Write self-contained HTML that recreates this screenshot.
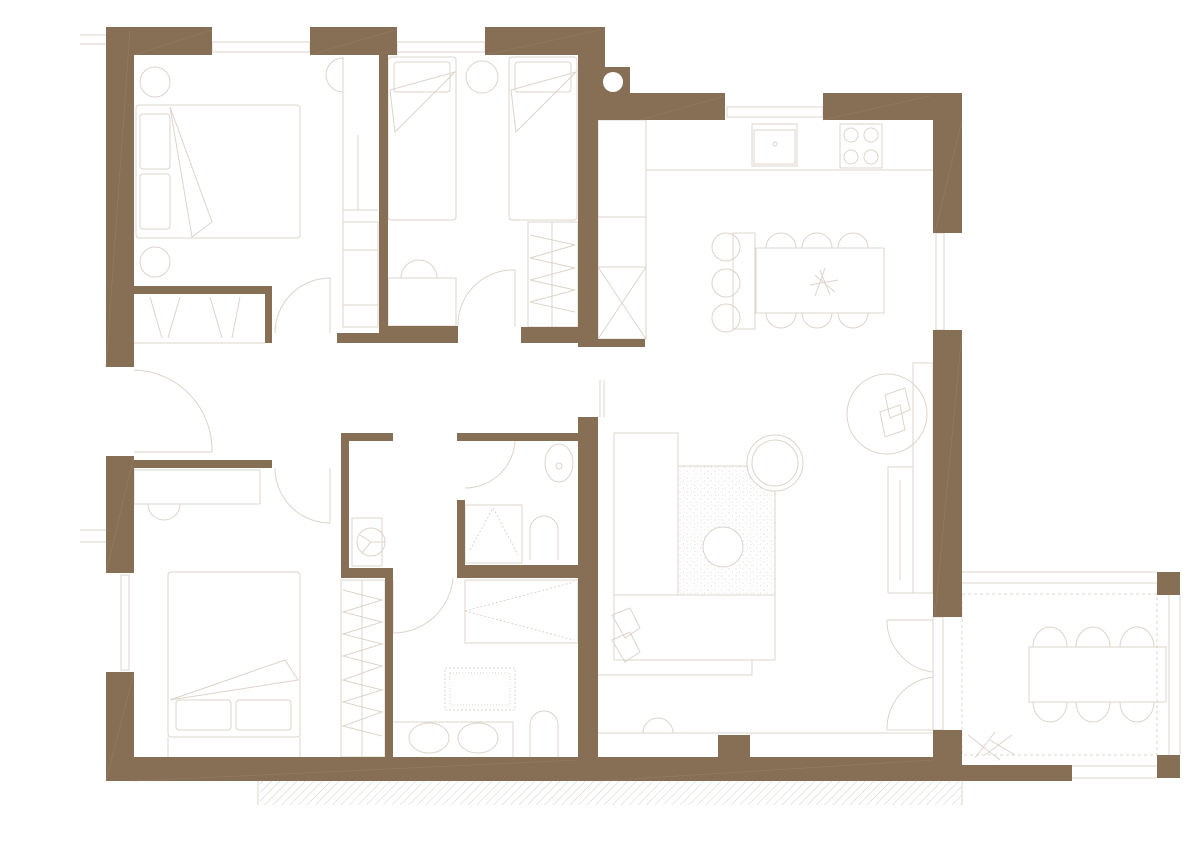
<!DOCTYPE html>
<html><head><meta charset="utf-8"><style>html,body{margin:0;padding:0;background:#fff}svg{display:block}</style></head>
<body>
<svg width="1200" height="850" viewBox="0 0 1200 850" xmlns="http://www.w3.org/2000/svg">
<defs>
<pattern id="hatch" width="6" height="6" patternUnits="userSpaceOnUse" patternTransform="rotate(45)">
<line x1="0" y1="0" x2="0" y2="6" stroke="#d6cfc8" stroke-width="1"/>
</pattern>
<pattern id="dots" width="7" height="7" patternUnits="userSpaceOnUse">
<circle cx="1" cy="2" r="0.5" fill="#cfc4b8"/><circle cx="4.5" cy="5" r="0.5" fill="#d8cec4"/><circle cx="5" cy="1" r="0.4" fill="#d8cec4"/><circle cx="2" cy="5.5" r="0.4" fill="#cfc4b8"/>
</pattern>
</defs>
<rect x="260" y="781" width="702" height="24" fill="url(#hatch)"/>
<g fill="none" stroke="#ddd4cb" stroke-width="1">
<rect x="212" y="42" width="98" height="10"/><rect x="397" y="42" width="88" height="10"/>
<rect x="727" y="107" width="96" height="10"/>
<rect x="936" y="233" width="8" height="97"/><rect x="121" y="575" width="8" height="95"/>
<line x1="80" y1="35" x2="106" y2="35"/><line x1="80" y1="44" x2="106" y2="44"/>
<line x1="80" y1="530" x2="106" y2="530"/><line x1="80" y1="542" x2="106" y2="542"/>
<circle cx="155" cy="82" r="15"/><circle cx="155" cy="262" r="15"/>
<rect x="136" y="105" width="164" height="133" rx="3"/>
<rect x="140" y="114" width="30" height="55" rx="3"/><rect x="140" y="174" width="30" height="55" rx="3"/>
<path d="M170 107 L212 222 L192 237 Z"/>
<path d="M343 57 V325 M343 210 H378 M358 135 V210"/><path d="M343 58 A15 15 0 0 0 343 92"/>
<rect x="343" y="222" width="35" height="105"/>
<line x1="343" y1="250" x2="378" y2="250"/><line x1="343" y1="305" x2="378" y2="305"/>
<path d="M134 343 H265 M150 297 L162 338 M180 297 L168 338 M210 297 L222 338 M240 297 L232 338"/>
<path d="M275 333 A55 55 0 0 1 330 278 V333"/>
<rect x="388" y="57" width="68" height="163" rx="3"/><rect x="394" y="62" width="56" height="30" rx="3"/>
<path d="M390 90 L455 72 L395 132 Z"/>
<rect x="509" y="57" width="68" height="163" rx="3"/><rect x="515" y="62" width="56" height="30" rx="3"/>
<path d="M511 90 L576 72 L516 132 Z"/>
<circle cx="482" cy="77" r="16"/>
<rect x="388" y="278" width="68" height="48"/><path d="M401 278 A18 18 0 0 1 437 278"/>
<path d="M458 327 A55 55 0 0 1 515 270 V327"/>
<rect x="528" y="222" width="50" height="105"/><line x1="552" y1="222" x2="552" y2="327"/>
<path d="M530 235 L575 245 L530 258 L575 268 L530 280 L575 290 L530 302 L575 312"/>
<rect x="598" y="120" width="48" height="97"/><rect x="598" y="217" width="48" height="50"/>
<rect x="598" y="267" width="48" height="72"/><path d="M598 267 L646 339 M646 267 L598 339"/>
<path d="M646 120 V170 H933"/>
<rect x="752" y="124" width="45" height="42"/><rect x="754" y="130" width="41" height="34"/><circle cx="775" cy="144" r="2"/>
<rect x="840" y="124" width="42" height="44"/>
<circle cx="851" cy="135" r="7"/><circle cx="871" cy="135" r="7"/><circle cx="851" cy="157" r="7"/><circle cx="871" cy="157" r="7"/>
<rect x="756" y="248" width="128" height="65"/><rect x="733" y="233" width="22" height="96"/>
<circle cx="726" cy="247" r="14"/><circle cx="726" cy="283" r="14"/><circle cx="726" cy="318" r="14"/>
<path d="M766 248 A15 15 0 0 1 796 248 M802 248 A15 15 0 0 1 832 248 M838 248 A15 15 0 0 1 868 248"/>
<path d="M766 313 A15 15 0 0 0 796 313 M802 313 A15 15 0 0 0 832 313 M838 313 A15 15 0 0 0 868 313"/>
<path d="M820 270 L830 295 M810 285 L838 280 M815 275 L835 292 M825 268 L815 296"/>
<circle cx="887" cy="414" r="40"/><rect x="913" y="363" width="20" height="230"/>
<rect x="888" y="467" width="25" height="126"/><line x1="900" y1="480" x2="900" y2="580"/>
<path d="M885 395 L905 388 L910 410 L890 418 Z M880 412 L900 405 L905 430 L885 437 Z"/>
<rect x="614" y="433" width="64" height="162"/>
<rect x="678" y="466" width="97" height="129" fill="url(#dots)"/>
<circle cx="723" cy="547" r="20" fill="#fff"/>
<circle cx="775" cy="463" r="28" fill="#fff"/><circle cx="775" cy="463" r="23"/>
<rect x="614" y="595" width="161" height="65"/><path d="M598 675 H752 V660"/>
<path d="M612 615 L630 608 L640 628 L625 638 Z M612 640 L630 632 L640 652 L625 662 Z"/>
<path d="M643 733 A15 15 0 0 1 673 733"/><line x1="598" y1="733" x2="933" y2="733"/>
<path d="M600 380 V417 M604 380 V417"/>
<path d="M887 620 H933 V672 M887 620 A52 52 0 0 0 933 672"/>
<path d="M887 730 H933 V677 M887 730 A52 52 0 0 1 933 677"/>
<rect x="933" y="617" width="10" height="113"/>
<path d="M962 572 H1157 M962 583 H1157 M962 766 H1157 M1070 778 H1157 M1169 595 V755 M1180 595 V755"/>
<rect x="962" y="594" width="195" height="161" stroke-dasharray="3 3"/>
<rect x="1029" y="647" width="137" height="55"/>
<path d="M1033 647 A17 20 0 0 1 1067 647 M1076 647 A17 20 0 0 1 1110 647 M1120 647 A17 20 0 0 1 1154 647"/>
<path d="M1033 702 A17 20 0 0 0 1067 702 M1076 702 A17 20 0 0 0 1110 702 M1120 702 A17 20 0 0 0 1154 702"/>
<path d="M968 735 L1000 760 M975 758 L995 732 M990 740 L1015 755 M985 755 L1012 735"/>
<rect x="134" y="470" width="126" height="34"/><path d="M148 504 A16 16 0 0 0 180 504"/>
<path d="M275 468 A55 55 0 0 0 330 523 V468"/>
<rect x="168" y="572" width="132" height="165" rx="3"/>
<rect x="176" y="700" width="55" height="30" rx="3"/><rect x="236" y="700" width="55" height="30" rx="3"/>
<path d="M170 700 L285 660 L298 680 Z"/>
<path d="M168 737 V757 M300 737 V757"/>
<rect x="341" y="580" width="44" height="177"/><line x1="362" y1="580" x2="362" y2="757"/>
<path d="M343 590 L382 600 L343 612 L382 622 L343 634 L382 644 L343 656 L382 666 L343 680 L382 690 L343 702 L382 712 L343 726 L382 736"/>
<rect x="352" y="518" width="30" height="48"/><circle cx="371" cy="542" r="14"/><path d="M360 535 L371 542 L362 553 M371 542 H385"/>
<path d="M393 580 V633 A60 60 0 0 0 453 578"/>
<rect x="465" y="580" width="113" height="63"/><path d="M465 611 L574 582 M465 611 L574 640" stroke-dasharray="2 2"/>
<rect x="445" y="668" width="70" height="42" stroke-dasharray="2 2"/><rect x="450" y="673" width="60" height="32" stroke-dasharray="1 2"/>
<path d="M393 722 H513 V757"/>
<ellipse cx="429" cy="738" rx="20" ry="15"/><ellipse cx="478" cy="738" rx="20" ry="15"/>
<path d="M530 757 V725 A14 14 0 0 1 558 725 V757"/>
<path d="M530 560 V530 A14 14 0 0 1 558 530 V560"/>
<ellipse cx="559" cy="463" rx="14" ry="19"/><circle cx="559" cy="466" r="3"/>
<rect x="465" y="505" width="57" height="58"/><path d="M470 550 L493 508 L518 555" stroke-dasharray="2 2"/>
<path d="M465 488 A50 50 0 0 0 515 441"/>
<path d="M134 452 H212 A80 80 0 0 0 134 370"/>
<path d="M258 781 V805 M962 781 V805"/>
</g>
<g fill="#876f55">
<rect x="106" y="27" width="28" height="340"/>
<rect x="106" y="456" width="28" height="117"/>
<rect x="106" y="672" width="28" height="109"/>
<rect x="106" y="27" width="106" height="28"/>
<rect x="310" y="27" width="87" height="28"/>
<rect x="485" y="27" width="120" height="28"/>
<rect x="379" y="27" width="9" height="316"/>
<rect x="337" y="333" width="43" height="10"/>
<rect x="388" y="326" width="70" height="17"/>
<rect x="578" y="27" width="20" height="320"/>
<rect x="578" y="27" width="27" height="93"/>
<rect x="598" y="67" width="32" height="53"/>
<rect x="598" y="339" width="47" height="8"/>
<rect x="521" y="327" width="57" height="16"/>
<rect x="598" y="93" width="127" height="27"/>
<rect x="823" y="93" width="139" height="27"/>
<rect x="933" y="93" width="29" height="140"/>
<rect x="933" y="330" width="29" height="287"/>
<rect x="933" y="730" width="29" height="51"/>
<rect x="106" y="757" width="856" height="24"/>
<rect x="962" y="765" width="110" height="16"/>
<rect x="718" y="735" width="32" height="22"/>
<rect x="578" y="417" width="20" height="340"/>
<rect x="341" y="433" width="52" height="8"/>
<rect x="457" y="433" width="121" height="8"/>
<rect x="341" y="433" width="8" height="145"/>
<rect x="341" y="568" width="52" height="10"/>
<rect x="385" y="568" width="8" height="189"/>
<rect x="457" y="500" width="8" height="78"/>
<rect x="457" y="565" width="121" height="13"/>
<rect x="134" y="460" width="138" height="8"/>
<rect x="134" y="286" width="138" height="8"/>
<rect x="265" y="286" width="7" height="57"/>
<rect x="1157" y="572" width="23" height="23"/>
<rect x="1157" y="755" width="23" height="23"/>
</g>
<circle cx="613" cy="82" r="10" fill="#fff"/>
<g stroke="#9a846c" stroke-width="0.6" fill="none" opacity="0.7">
<path d="M134 55 L212 30 M310 55 L395 30 M485 55 L600 30 M106 367 L130 30 M106 781 L134 672 M106 573 L134 456 M134 781 L578 760 M598 781 L933 760 M962 120 L935 232 M962 332 L935 615 M640 120 L725 96 M823 120 L930 96"/>
</g>
</svg>
</body></html>
